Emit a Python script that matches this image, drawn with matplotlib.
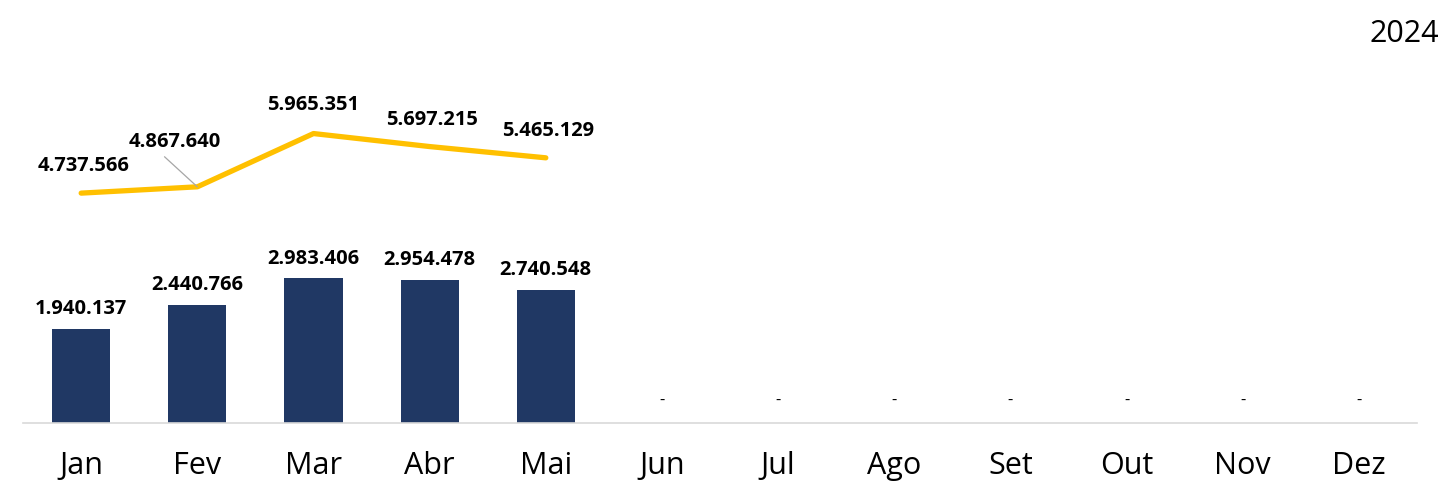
import numpy as np
import matplotlib.pyplot as plt

# Dados do gráfico
meses = ['Jan', 'Fev', 'Mar', 'Abr', 'Mai', 'Jun', 'Jul', 'Ago', 'Set', 'Out', 'Nov', 'Dez']
barras = [1940137, 2440766, 2983406, 2954478, 2740548, 0, 0, 0, 0, 0, 0, 0]
linha = [4737566, 4867640, 5965351, 5697215, 5465129]
titulo = '2024'

plt.rcParams['font.family'] = ['Open Sans', 'DejaVu Sans']

def fmt(v):
    if v == 0:
        return '-'
    return f'{v:,}'.replace(',', '.')

fig = plt.figure(figsize=(14.43, 4.82), dpi=100)
ax = fig.add_axes([0.016, 0.1224, 0.966, 0.753])

x = np.arange(len(meses))
ax.bar(x, barras, width=0.5, color='#203864', zorder=2)
ax.plot(x[:len(linha)], linha, color='#FFC000', linewidth=3.8,
        solid_capstyle='round', solid_joinstyle='round', zorder=3)

ax.set_xlim(-0.5, len(meses) - 0.5)
ax.set_ylim(0, 7.48e6)

# Rótulos das barras
for i, v in enumerate(barras):
    if v == 0:
        ax.text(i, 4.5e5, '-', ha='center', va='center', fontsize=12, color='black')
    else:
        ax.annotate(fmt(v), (i, v), xytext=(0, 7), textcoords='offset points',
                    ha='center', va='bottom', fontsize=14.5, fontweight='bold')

# Rótulos da linha
desloc = [(2, 12), (-16, 25), (0, 13), (2, 12), (2, 12)]
for i, v in enumerate(linha):
    if i == 1:
        ax.annotate(fmt(v), (i, v), xytext=desloc[i], textcoords='offset points',
                    ha='center', va='bottom', fontsize=14.5, fontweight='bold',
                    arrowprops=dict(arrowstyle='-', color='#a6a6a6', lw=0.9,
                                    shrinkA=2, shrinkB=0,
                                    relpos=(0.33, 0.0)))
    else:
        ax.annotate(fmt(v), (i, v), xytext=desloc[i], textcoords='offset points',
                    ha='center', va='bottom', fontsize=14.5, fontweight='bold')

ax.set_xticks(x)
ax.set_xticklabels(meses, fontsize=22)
ax.tick_params(axis='x', length=0, pad=20)
ax.set_yticks([])
for lado in ['top', 'right', 'left']:
    ax.spines[lado].set_visible(False)
ax.spines['bottom'].set_color('#d9d9d9')
ax.spines['bottom'].set_linewidth(1.2)

fig.text(0.997, 0.93, titulo, ha='right', va='center', fontsize=22)

fig.savefig('out.png', dpi=100)
